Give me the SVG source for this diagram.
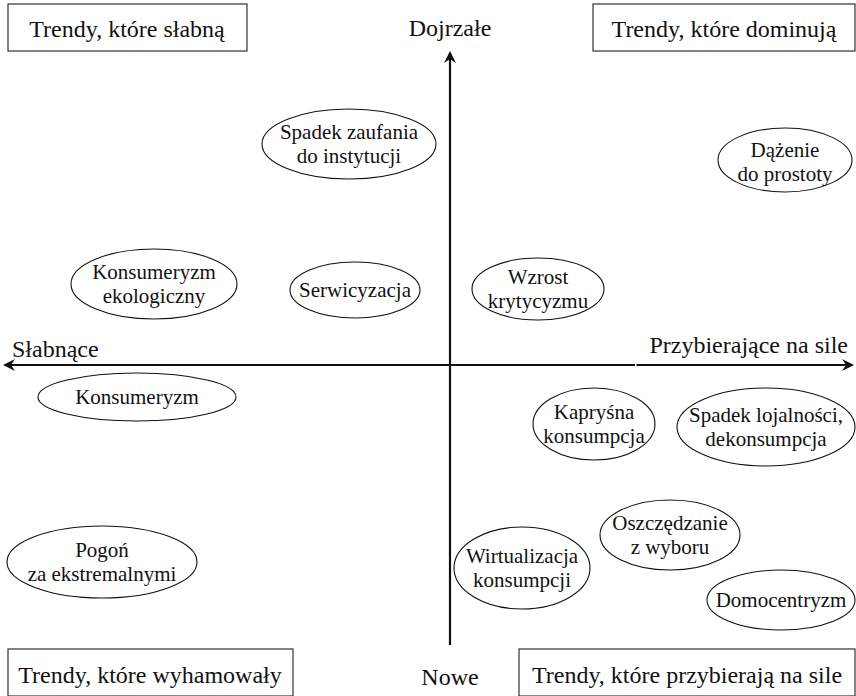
<svg xmlns="http://www.w3.org/2000/svg" width="856" height="696" viewBox="0 0 856 696">
<style>
text{font-family:"Liberation Serif","Times New Roman","DejaVu Serif",serif;font-size:21px;fill:#111;text-anchor:middle}
.lbl{font-size:24px}
.box{fill:#fff;stroke:#333;stroke-width:1.2}
ellipse{fill:#fff;stroke:#111;stroke-width:1.1}
.axis{stroke:#111;stroke-width:2.2;fill:none}
</style>
<defs>
<marker id="ah" viewBox="0 0 12 12" refX="10" refY="6" markerWidth="12" markerHeight="12" markerUnits="userSpaceOnUse" orient="auto-start-reverse">
<path d="M0,0 L12,6 L0,12 L4,6 Z" fill="#111"/>
</marker>
</defs>
<g id="connectors">
<line class="axis" x1="450" y1="645" x2="450" y2="53" marker-end="url(#ah)"/>
<line class="axis" x1="5" y1="365" x2="635" y2="365" marker-start="url(#ah)"/>
<line class="axis" x1="636.5" y1="365" x2="852" y2="365" marker-end="url(#ah)"/>
</g>
<g id="axis-labels">
<text class="lbl" x="450" y="36">Dojrzałe</text>
<text class="lbl" x="450" y="685">Nowe</text>
<text class="lbl" x="12" y="357" style="text-anchor:start">Słabnące</text>
<text class="lbl" x="848" y="353" style="text-anchor:end">Przybierające na sile</text>
</g>
<g id="box-tl"><rect class="box" x="8" y="4" width="239" height="47"/><text class="lbl" x="127" y="37">Trendy, które słabną</text></g>
<g id="box-tr"><rect class="box" x="593" y="4" width="262" height="47"/><text class="lbl" x="724" y="37">Trendy, które dominują</text></g>
<g id="box-bl"><rect class="box" x="8" y="649" width="285" height="47"/><text class="lbl" x="150" y="683">Trendy, które wyhamowały</text></g>
<g id="box-br"><rect class="box" x="519" y="649" width="336" height="47"/><text class="lbl" x="687" y="683">Trendy, które przybierają na sile</text></g>
<g id="n-zaufanie"><ellipse cx="349" cy="144" rx="87" ry="35"/><text x="349" y="139">Spadek zaufania</text><text x="349" y="163">do instytucji</text></g>
<g id="n-prostota"><ellipse cx="785" cy="160" rx="67" ry="32"/><text x="785" y="157">Dążenie</text><text x="785" y="181">do prostoty</text></g>
<g id="n-ekologiczny"><ellipse cx="154" cy="284" rx="83" ry="35"/><text x="154" y="279">Konsumeryzm</text><text x="154" y="303">ekologiczny</text></g>
<g id="n-serwicyzacja"><ellipse cx="355" cy="290" rx="65" ry="28"/><text x="355" y="297">Serwicyzacja</text></g>
<g id="n-krytycyzm"><ellipse cx="538" cy="289" rx="66" ry="31"/><text x="538" y="284">Wzrost</text><text x="538" y="308">krytycyzmu</text></g>
<g id="n-konsumeryzm"><ellipse cx="137" cy="397" rx="99" ry="24"/><text x="137" y="404">Konsumeryzm</text></g>
<g id="n-kaprysna"><ellipse cx="594" cy="424" rx="61" ry="36"/><text x="594" y="419">Kapryśna</text><text x="594" y="443">konsumpcja</text></g>
<g id="n-lojalnosc"><ellipse cx="766" cy="427" rx="89" ry="39"/><text x="766" y="422">Spadek lojalności,</text><text x="766" y="446">dekonsumpcja</text></g>
<g id="n-pogon"><ellipse cx="102" cy="562" rx="95" ry="36"/><text x="102" y="557">Pogoń</text><text x="102" y="581">za ekstremalnymi</text></g>
<g id="n-wirtualizacja"><ellipse cx="522" cy="568" rx="68" ry="41"/><text x="522" y="563">Wirtualizacja</text><text x="522" y="587">konsumpcji</text></g>
<g id="n-oszczedzanie"><ellipse cx="670" cy="535" rx="70" ry="35"/><text x="670" y="530">Oszczędzanie</text><text x="670" y="554">z wyboru</text></g>
<g id="n-domocentryzm"><ellipse cx="781" cy="600" rx="74" ry="30"/><text x="781" y="607">Domocentryzm</text></g>
</svg>
